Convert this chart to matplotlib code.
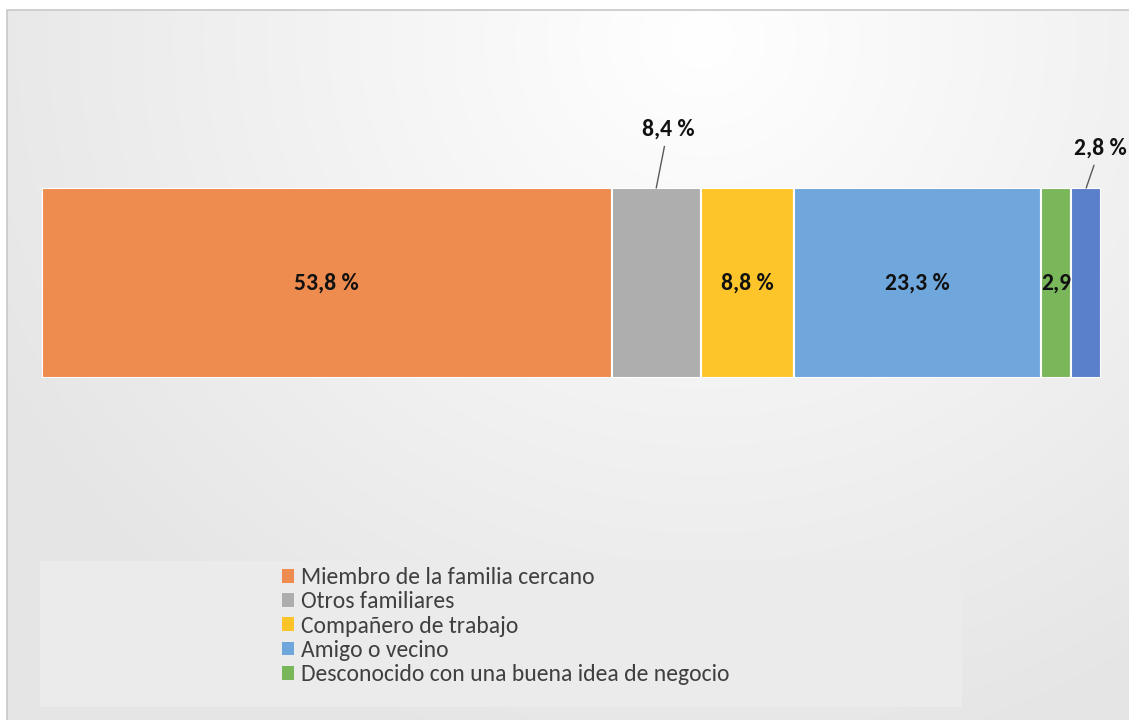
import numpy as np
import matplotlib
matplotlib.use("Agg")
import matplotlib.pyplot as plt
from matplotlib import font_manager
from matplotlib.patches import Rectangle

categories = ["Miembro de la familia cercano", "Otros familiares", "Compañero de trabajo",
              "Amigo o vecino", "Desconocido con una buena idea de negocio", "Otro"]
values = [53.8, 8.4, 8.8, 23.3, 2.9, 2.8]
labels = ["53,8 %", "8,4 %", "8,8 %", "23,3 %", "2,9", "2,8 %"]
colors = ["#EE8B4F", "#AEAEAE", "#FEC52A", "#6FA6DB", "#7AB65A", "#5A7FCB"]
legend_n = 5

def pick(fams):
    for f in fams:
        try:
            font_manager.findfont(f, fallback_to_default=False)
            return f
        except Exception:
            pass
    return "DejaVu Sans"

font = pick(["Carlito", "Open Sans"])
if font == "Carlito":
    lab_size, leg_size = 17, 17
else:
    lab_size, leg_size = 14, 15

W, H = 1129, 720
fig = plt.figure(figsize=(W / 100, H / 100), dpi=100)

# background gradient
bg = fig.add_axes([0, 0, 1, 1])
bg.set_xlim(0, W); bg.set_ylim(H, 0); bg.axis("off")
yy, xx = np.mgrid[0:H, 0:W]
d = np.sqrt(((xx - 700) / 800.0) ** 2 + ((yy - 30) / 750.0) ** 2)
val = 1.0 - 0.10 * np.clip(d, 0, 1.0)
img = np.dstack([val, val, val])
bg.imshow(img, extent=[7, W, H, 10], aspect="auto", zorder=0)
bg.plot([7, 7, W], [H, 10, 10], color="#c8c8c8", lw=1.2, zorder=1)
# legend background
bg.add_patch(Rectangle((40, 561), 922, 146, facecolor="#ebebeb", edgecolor="none", zorder=1))

ax = fig.add_axes([42 / W, 1 - 378 / H, (1101 - 42) / W, 190 / H])
ax.set_xlim(0, sum(values))
ax.set_ylim(-0.5, 0.5)
ax.axis("off")

left = 0.0
bars = []
for v, c in zip(values, colors):
    b = ax.barh(0, v, left=left, height=1.0, color=c, edgecolor="white", linewidth=1.5)
    bars.append(b)
    left += v

starts = np.cumsum([0] + values[:-1])
lab_font = dict(fontsize=lab_size, fontweight="bold", color="#111111", family=font)
for i, (s, v, lab) in enumerate(zip(starts, values, labels)):
    cx = s + v / 2
    if i == 1:
        ax.annotate(lab, xy=(cx, 0.5), xytext=(cx + 1.1, 0.755), textcoords="data",
                    ha="center", va="bottom", annotation_clip=False,
                    arrowprops=dict(arrowstyle="-", color="#595959", lw=1,
                                    shrinkA=3, shrinkB=0), **lab_font)
    elif i == 5:
        ax.annotate(lab, xy=(cx, 0.5), xytext=(cx + 1.3, 0.655), textcoords="data",
                    ha="center", va="bottom", annotation_clip=False,
                    arrowprops=dict(arrowstyle="-", color="#595959", lw=1,
                                    shrinkA=3, shrinkB=0), **lab_font)
    else:
        ax.text(cx, 0, lab, ha="center", va="center", **lab_font)

handles = [b[0] for b in bars[:legend_n]]
leg = fig.legend(handles, categories[:legend_n], loc="upper left",
                 bbox_to_anchor=(282 / W, 1 - 567 / H), frameon=False,
                 prop=dict(family=font, size=leg_size), handlelength=0.52, handleheight=0.52,
                 handletextpad=0.3, labelspacing=0.14, borderpad=0, borderaxespad=0)
for t in leg.get_texts():
    t.set_color("#404040")
for h in leg.legend_handles:
    h.set_edgecolor("none")

fig.savefig("out.png", dpi=100)
